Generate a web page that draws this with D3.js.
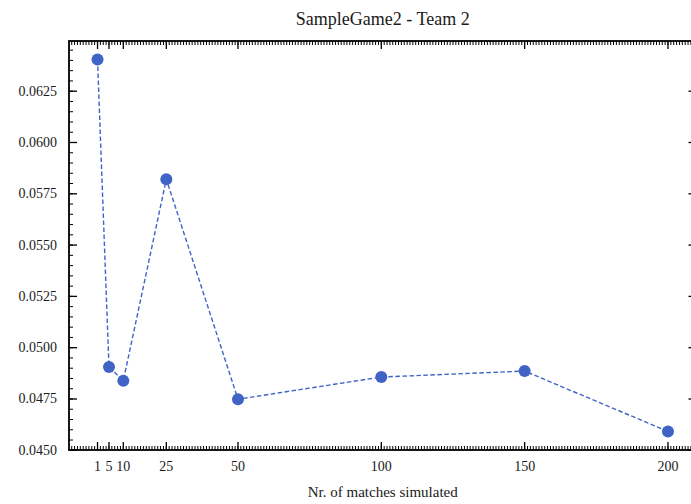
<!DOCTYPE html>
<html>
<head>
<meta charset="utf-8">
<script src="https://cdn.jsdelivr.net/npm/d3@7"></script>
<style>
  html, body { margin: 0; padding: 0; background: #fff; }
</style>
</head>
<body>
<svg id="chart" width="691" height="504" font-family="'Liberation Serif', 'Times New Roman', serif"></svg>
<script>
// Matches simulated per run and the resulting metric for Team 2
const matches = [1, 5, 10, 25, 50, 100, 150, 200];
const values = [0.06404, 0.04906, 0.04839, 0.05821, 0.04749, 0.04857, 0.04886, 0.04592];
const xTickValues = [1, 5, 10, 25, 50, 100, 150, 200];
const yTickValues = [0.0450, 0.0475, 0.0500, 0.0525, 0.0550, 0.0575, 0.0600, 0.0625];

const plot = { left: 69, right: 696.5, top: 41, bottom: 450 };

const svg = d3.select("#chart");

// Data limits padded by 5% on each side
function padded(arr) {
  const [lo, hi] = d3.extent(arr);
  const m = (hi - lo) * 0.05;
  return [lo - m, hi + m];
}

const x = d3.scaleLinear().domain(padded(matches)).range([plot.left, plot.right]);
const y = d3.scaleLinear().domain(padded(values)).range([plot.bottom, plot.top]);

const lineColor = "#4063c6";
const textColor = "#1a1a1a";

// Tick marks (all pointing inward)
const ticks = svg.append("g").attr("stroke", "#000");
const xMinor = d3.range(Math.ceil(x.domain()[0]), Math.floor(x.domain()[1]) + 1);
const yMinor = d3.range(0.0450, y.domain()[1], 0.0005).filter(v => v >= y.domain()[0] - 1e-9);

xMinor.forEach(v => {
  const px = x(v);
  ticks.append("line").attr("x1", px).attr("x2", px).attr("y1", plot.bottom).attr("y2", plot.bottom - 4).attr("stroke-width", 1);
  ticks.append("line").attr("x1", px).attr("x2", px).attr("y1", plot.top).attr("y2", plot.top + 4).attr("stroke-width", 1);
});
xTickValues.forEach(v => {
  const px = x(v);
  ticks.append("line").attr("x1", px).attr("x2", px).attr("y1", plot.bottom).attr("y2", plot.bottom - 8).attr("stroke-width", 1.3);
  ticks.append("line").attr("x1", px).attr("x2", px).attr("y1", plot.top).attr("y2", plot.top + 8).attr("stroke-width", 1.3);
});
yMinor.forEach(v => {
  const py = y(v);
  ticks.append("line").attr("x1", plot.left).attr("x2", plot.left + 4).attr("y1", py).attr("y2", py).attr("stroke-width", 1);
  ticks.append("line").attr("x1", plot.right).attr("x2", plot.right - 4).attr("y1", py).attr("y2", py).attr("stroke-width", 1);
});
yTickValues.forEach(v => {
  const py = y(v);
  ticks.append("line").attr("x1", plot.left).attr("x2", plot.left + 8).attr("y1", py).attr("y2", py).attr("stroke-width", 1.3);
  ticks.append("line").attr("x1", plot.right).attr("x2", plot.right - 8).attr("y1", py).attr("y2", py).attr("stroke-width", 1.3);
});

// Frame
svg.append("rect")
  .attr("x", plot.left).attr("y", plot.top)
  .attr("width", plot.right - plot.left).attr("height", plot.bottom - plot.top)
  .attr("fill", "none").attr("stroke", "#000").attr("stroke-width", 1.8);

// Tick labels
svg.append("g").selectAll("text").data(xTickValues).join("text")
  .attr("x", d => x(d)).attr("y", plot.bottom + 21)
  .attr("text-anchor", "middle").attr("font-size", 14).attr("fill", textColor)
  .text(d => String(d));

svg.append("g").selectAll("text").data(yTickValues).join("text")
  .attr("x", plot.left - 12).attr("y", d => y(d) + 4.5)
  .attr("text-anchor", "end").attr("font-size", 14).attr("fill", textColor)
  .text(d => d.toFixed(4));

// Series: dashed line with round markers
const line = d3.line().x((d, i) => x(matches[i])).y(d => y(d));
svg.append("path").datum(values)
  .attr("d", line).attr("fill", "none")
  .attr("stroke", lineColor).attr("stroke-width", 1.4)
  .attr("stroke-dasharray", "4.5,2.5");

svg.append("g").selectAll("circle").data(values).join("circle")
  .attr("cx", (d, i) => x(matches[i])).attr("cy", d => y(d))
  .attr("r", 6).attr("fill", lineColor);

// Title and axis label
const cx = (plot.left + plot.right) / 2;
svg.append("text").attr("x", cx).attr("y", 24.5)
  .attr("text-anchor", "middle").attr("font-size", 18).attr("fill", textColor)
  .text("SampleGame2 - Team 2");
svg.append("text").attr("x", cx).attr("y", 497)
  .attr("text-anchor", "middle").attr("font-size", 15).attr("fill", textColor)
  .text("Nr. of matches simulated");
</script>
</body>
</html>
